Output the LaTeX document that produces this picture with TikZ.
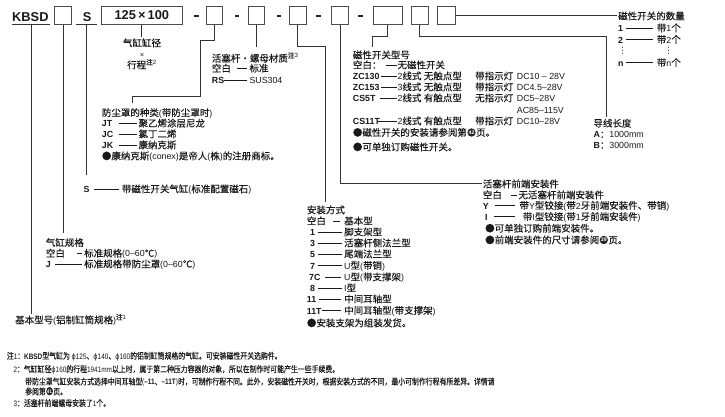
\documentclass[tikz,border=0pt]{standalone}
\usepackage{graphicx}
\usepackage{fontspec}
\setmainfont{Liberation Sans}[Scale=0.93]
\newfontfamily\latf{Liberation Sans}[Scale=0.93]
\newfontfamily\cjkf{Noto Sans CJK SC}[FakeBold=0.3]
\newfontfamily\djv{DejaVu Sans}[Scale=0.93]
% automatic switching between Latin and CJK fonts
\newXeTeXintercharclass\cjkcls
\newcount\cjkc
\cjkc="2E80
\loop\XeTeXcharclass\cjkc=\cjkcls\ifnum\cjkc<"9FFF\advance\cjkc by 1\repeat
\cjkc="FF00
\loop\XeTeXcharclass\cjkc=\cjkcls\ifnum\cjkc<"FFEF\advance\cjkc by 1\repeat
\XeTeXcharclass"25CF=\cjkcls
\XeTeXcharclass"2103=\cjkcls
\XeTeXinterchartoks 0 \cjkcls = {\cjkf}
\XeTeXinterchartoks 4095 \cjkcls = {\cjkf}
\XeTeXinterchartoks \cjkcls 0 = {\latf}
\XeTeXinterchartoks \cjkcls 4095 = {\latf}
\XeTeXinterchartokenstate=1
\newcommand\fs{\fontsize{9.5}{11}\selectfont}
\newcommand\fsn{\fontsize{8.5}{9.5}\selectfont}
\newcommand\fsb{\fontsize{13.8}{15}\selectfont\bfseries}
\newcommand\dl[1]{\rule[3.2pt]{#1pt}{0.7pt}}
\newcommand\cw[2]{\makebox[#1pt][l]{#2}}
\newcommand\bnum[1]{\hspace{0.4pt}\tikz[baseline=0pt]{\fill[black!85] (0pt,3.5pt) circle (4.2pt);
  \node[anchor=base, inner sep=0pt, text height=, text depth=, text=white, font=\fontsize{5.6}{6}\selectfont\bfseries] at (0pt,1.6pt) {#1};}\hspace{0.4pt}}
\newcommand\swrow[5]{\cw{#2}{#1}\rule[3.2pt]{\dimexpr44pt-#2pt\relax}{0.7pt}\hspace{0.6pt}\cw{77.7}{#3}\cw{41.7}{#4}#5}
\newcommand\nt[1]{\scalebox{0.81}[1]{#1}}
\tikzset{
  lab/.style={anchor=west, inner sep=0pt, text height=8pt, text depth=1pt, font=\fs, text=black!90},
  note/.style={anchor=west, inner sep=0pt, text height=7pt, text depth=1pt, font=\fsn, text=black!90},
  cbox/.style={draw=black!70, line width=1.1pt, inner sep=0pt, minimum height=17.9pt},
  conn/.style={draw=black!80, line width=0.9pt},
  hy/.style={fill=black!85, inner sep=0pt, minimum width=4.5pt, minimum height=1.7pt},
  big/.style={font=\fsb, inner sep=0pt, text=black!90},
}
\begin{document}
\begin{tikzpicture}[x=1pt,y=-1pt]
\useasboundingbox (0,0) rectangle (725,416);
% ---- top code row
\node[big, anchor=base west] (kb) at (12,21.5) {KBSD};
\node[cbox, minimum width=16.9pt] (b1) at (63,15.5) {};
\node[big, anchor=base west] (sS) at (82.7,21.5) {S};
\node[cbox, big, minimum width=80.6pt] (b2) at (141.85,15.5) {125\,×\,100};
\node[hy] (d1) at (196.7,15.7) {};
\node[cbox, minimum width=15.6pt] (b3) at (214.35,15.5) {};
\node[hy] (d2) at (237,15.7) {};
\node[cbox, minimum width=16.2pt] (b4) at (256.35,15.5) {};
\node[hy] (d3) at (279,15.7) {};
\node[cbox, minimum width=16.6pt] (b5) at (297.85,15.5) {};
\node[hy] (d4) at (318.7,15.7) {};
\node[cbox, minimum width=16.9pt] (b6) at (340,15.5) {};
\node[hy] (d5) at (360.5,15.7) {};
\node[cbox, minimum width=28.9pt] (b7) at (387.7,15.5) {};
\node[cbox, minimum width=17.2pt] (b8) at (419.85,15.5) {};
\node[cbox, minimum width=17.9pt] (b9) at (446.2,15.5) {};
% underlines
\coordinate (ku1) at (12,24.3); \coordinate (ku2) at (50,24.3);
\coordinate (su1) at (76,24.3); \coordinate (su2) at (96.7,24.3);
\draw[conn] (ku1) -- (ku2);
\draw[conn] (su1) -- (su2);
% ---- connector points
\coordinate (ku) at (31,24.3);   \coordinate (ek) at (31,314);
\coordinate (e1) at (63,232.7);
\coordinate (su) at (86.7,24.3); \coordinate (es) at (86.7,175);
\coordinate (e2) at (141.85,36.7);
\coordinate (p3a) at (200,40); \coordinate (p3b) at (132.7,96.7); \coordinate (e3) at (132.7,103.3);
\coordinate (e4) at (256.35,46.7);
\coordinate (p5a) at (325,46.7); \coordinate (e5) at (325,201.7);
\coordinate (e6) at (481.7,183);
\coordinate (p7) at (372.7,36); \coordinate (e7) at (372.7,47);
\coordinate (p8) at (606.7,36); \coordinate (e8) at (606.7,116.7);
\coordinate (e9) at (616.7,15.5);
\draw[conn] (ku) -- (ek);
\draw[conn] (b1.south) -- (e1);
\draw[conn] (su) -- (es);
\draw[conn] (b2.south) -- (e2);
\draw[conn] (b3.south) |- (p3a) |- (p3b) -- (e3);
\draw[conn] (b4.south) -- (e4);
\draw[conn] (b5.south) |- (p5a) -- (e5);
\draw[conn] (b6.south) |- (e6);
\draw[conn] (b7.south) |- (p7) -- (e7);
\draw[conn] (b8.south) |- (p8) -- (e8);
\draw[conn] (b9.east) -- (e9);
% ---- bore x stroke
\node[lab, anchor=center] (bore1) at (142,43) {气缸缸径};
\node[lab, anchor=center, font=\fontsize{8}{9}\selectfont] (bore2) at (142,54) {×};
\node[lab, anchor=center] (bore3) at (142,65) {行程\textsuperscript{注2}};
% ---- number of switches
\node[lab] (nq) at (618,16) {磁性开关的数量};
\node[lab] (nq1) at (618,28) {\cw{8}{\textbf{1}}\dl{27}\hspace{3.7pt}带1个};
\node[lab] (nq2) at (618,39.5) {\cw{8}{\textbf{2}}\dl{27}\hspace{3.7pt}带2个};
\node[lab, font=\fs\djv] (vd1) at (618,50) {⋮};
\node[lab, font=\fs\djv] (vd2) at (664,50) {⋮};
\node[lab] (nqn) at (618,62.7) {\cw{8}{\textbf{n}}\dl{27}\hspace{3.7pt}带n个};
% ---- switch type
\node[lab] (sw0) at (352.7,55) {磁性开关型号};
\node[lab] (sw1) at (352.7,65) {\swrow{空白：}{33.3}{无磁性开关}{}{}};
\node[lab] (sw2) at (352.7,76) {\swrow{\textbf{ZC130}}{28}{2线式 无触点型}{带指示灯}{DC10 – 28V}};
\node[lab] (sw3) at (352.7,87) {\swrow{\textbf{ZC153}}{28}{3线式 无触点型}{带指示灯}{DC4.5–28V}};
\node[lab] (sw4) at (352.7,98) {\swrow{\textbf{CS5T}}{27.3}{2线式 有触点型}{无指示灯}{DC5–28V}};
\node[lab] (sw5) at (516.7,109.5) {AC85–115V};
\node[lab] (sw6) at (352.7,121) {\swrow{\textbf{CS11T}}{25.3}{2线式 有触点型}{带指示灯}{DC10–28V}};
\node[lab] (sw7) at (352.7,132.5) {●磁性开关的安装请参阅第\bnum{42}页。};
\node[lab] (sw8) at (352.7,147) {●可单独订购磁性开关。};
% ---- lead length
\node[lab] (ll0) at (593.3,123.3) {导线长度};
\node[lab] (ll1) at (593.3,134.3) {\textbf{A}：1000mm};
\node[lab] (ll2) at (593.3,145) {\textbf{B}：3000mm};
% ---- rod / nut material
\node[lab] (rm0) at (211.7,58.3) {活塞杆・螺母材质\textsuperscript{注3}};
\node[lab] (rm1) at (211.7,68.3) {\cw{25}{空白}\dl{10}\hspace{2.6pt}标准};
\node[lab] (rm2) at (211.7,80) {\cw{12.3}{\textbf{RS}}\dl{22.7}\hspace{2.6pt}SUS304};
% ---- boot
\node[lab] (bt0) at (101.7,112.7) {防尘罩的种类(带防尘罩时)};
\node[lab] (bt1) at (101.7,123.3) {\cw{16.6}{\textbf{JT}}\dl{18.4}\hspace{1.6pt}聚乙烯涂层尼龙};
\node[lab] (bt2) at (101.7,134) {\cw{16.6}{\textbf{JC}}\dl{18.4}\hspace{1.6pt}氯丁二烯};
\node[lab] (bt3) at (101.7,145) {\cw{16.6}{\textbf{JK}}\dl{18.4}\hspace{1.6pt}康纳克斯};
\node[lab] (bt4) at (101.7,156) {●康纳克斯(conex)是帝人(株)的注册商标。};
% ---- S
\node[lab] (sl) at (83.3,189) {\cw{10}{\textbf{S}}\dl{25}\hspace{3.4pt}带磁性开关气缸(标准配置磁石)};
% ---- mounting
\node[lab] (mt0) at (306.7,210) {安装方式};
\node[lab] (mt1) at (306.7,221) {\cw{26.3}{空白}\dl{7}\hspace{4pt}基本型};
\node[lab] (mt2) at (310,232) {\cw{7.3}{\textbf{1}}\dl{24.4}\hspace{2.3pt}脚支架型};
\node[lab] (mt3) at (310,243) {\cw{7.3}{\textbf{3}}\dl{24.4}\hspace{2.3pt}活塞杆侧法兰型};
\node[lab] (mt4) at (310,254) {\cw{7.3}{\textbf{5}}\dl{24.4}\hspace{2.3pt}尾端法兰型};
\node[lab] (mt5) at (310,265.5) {\cw{7.3}{\textbf{7}}\dl{24.4}\hspace{2.3pt}U型(带销)};
\node[lab] (mt6) at (309,277) {\cw{16}{\textbf{7C}}\dl{16}\hspace{3pt}U型(带支撑架)};
\node[lab] (mt7) at (310,288) {\cw{7.3}{\textbf{8}}\dl{24}\hspace{2.7pt}I型};
\node[lab] (mt8) at (306.7,299) {\cw{12}{\textbf{11}}\dl{22.3}\hspace{3pt}中间耳轴型};
\node[lab] (mt9) at (306.7,310.5) {\cw{15}{\textbf{11T}}\dl{19.3}\hspace{3pt}中间耳轴型(带支撑架)};
\node[lab] (mt10) at (306.7,323) {●安装支架为组装发货。};
% ---- rod end fitting
\node[lab] (fr0) at (482.7,184) {活塞杆前端安装件};
\node[lab] (fr1) at (482.7,195) {\cw{28.3}{空白}\dl{5.7}\hspace{1.6pt}无活塞杆前端安装件};
\node[lab] (fr2) at (482.7,205.5) {\cw{12.3}{\textbf{Y}}\dl{20}\hspace{4.3pt}带Y型铰接(带2牙前端安装件、带销)};
\node[lab] (fr3) at (485,216.7) {\cw{8.3}{\textbf{I}}\dl{21.7}\hspace{7.7pt}带I型铰接(带1牙前端安装件)};
\node[lab] (fr4) at (485,228.3) {●可单独订购前端安装件。};
\node[lab] (fr5) at (485,240) {●前端安装件的尺寸请参阅\bnum{39}页。};
% ---- cylinder spec
\node[lab] (cs0) at (45.7,242.7) {气缸规格};
\node[lab] (cs1) at (45.7,253.3) {\cw{31}{空白}\dl{5}\hspace{2.3pt}标准规格(0–60℃)};
\node[lab] (cs2) at (45.7,264) {\cw{9.3}{\textbf{J}}\dl{26.7}\hspace{2.3pt}标准规格带防尘罩(0–60℃)};
% ---- base model
\node[lab] (bm) at (15,320) {基本型号(铝制缸筒规格)\textsuperscript{注1}};
% ---- notes
\node[note] (n1) at (6.7,356) {\nt{注1：\textbf{KBSD}型气缸为 {\djv ϕ}125、{\djv ϕ}140、{\djv ϕ}160的铝制缸筒规格的气缸。可安装磁性开关选购件。}};
\node[note] (n2) at (13.3,369.3) {\nt{2：气缸缸径{\djv ϕ}160的行程1941mm以上时，属于第二种压力容器的对象，所以在制作时可能产生一些手续费。}};
\node[note] (n3) at (25,381.7) {\nt{带防尘罩气缸安装方式选择中间耳轴型(\textbf{–11}、\textbf{–11T})时，可制作行程不同。此外，安装磁性开关时，根据安装方式的不同，最小可制作行程有所差异。详情请}};
\node[note] (n4) at (25,391.7) {\nt{参阅第\bnum{41}页。}};
\node[note] (n5) at (13.3,403.3) {\nt{3：活塞杆前端螺母安装了1个。}};
\end{tikzpicture}
\end{document}
